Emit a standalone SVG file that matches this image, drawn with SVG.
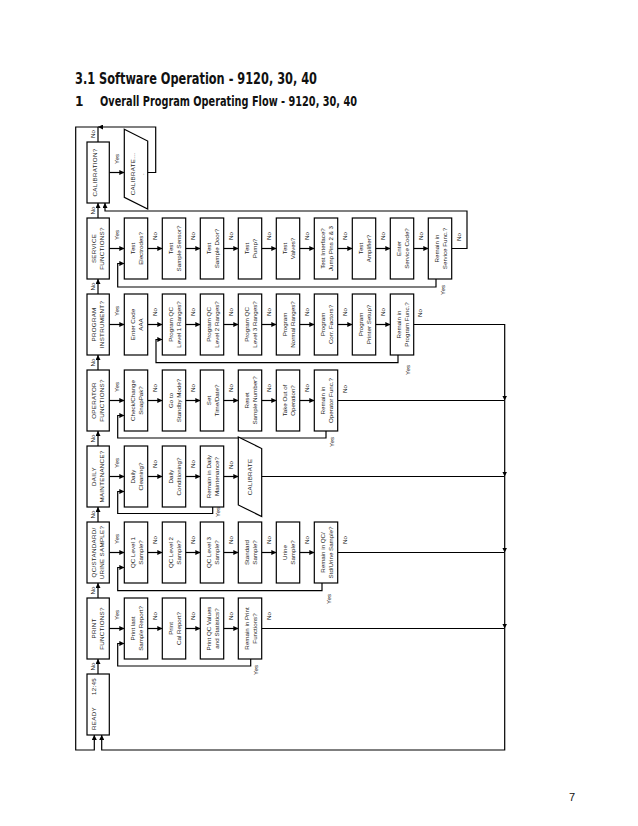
<svg xmlns="http://www.w3.org/2000/svg" width="638" height="826" viewBox="0 0 638 826">
<defs>
<marker id="ah" markerUnits="userSpaceOnUse" markerWidth="5" markerHeight="5" refX="5" refY="2.5" orient="auto">
<path d="M0,0 L5,2.5 L0,5 z" fill="#000"/>
</marker>
<style>
.box{fill:#fff;stroke:#000;stroke-width:1.2}
.ln{fill:none;stroke:#000;stroke-width:1.2}
.ar{fill:none;stroke:#000;stroke-width:1.2;marker-end:url(#ah)}
.t{font-family:"Liberation Sans",Arial,sans-serif;font-size:6.2px;fill:#222;text-anchor:middle}
.m{font-size:6.2px;letter-spacing:0.3px}
.h1{font-family:"Liberation Sans Narrow","DejaVu Sans Condensed","Liberation Sans",sans-serif;font-weight:bold;fill:#111}
</style>
</defs>
<rect width="638" height="826" fill="#fff"/>
<text class="h1" x="75" y="84" font-size="16" textLength="242" lengthAdjust="spacingAndGlyphs">3.1 Software Operation - 9120, 30, 40</text>
<text class="h1" x="75" y="106" font-size="13.5">1</text>
<text class="h1" x="100" y="106" font-size="13.5" textLength="257" lengthAdjust="spacingAndGlyphs">Overall Program Operating Flow - 9120, 30, 40</text>
<text x="569" y="801" font-family="Liberation Sans,Arial,sans-serif" font-size="11" fill="#111">7</text>

<g id="connectors">
<path class="ar" d="M98,142 V127 H75.7 V750 H94.3 V735"/>
<path class="ar" d="M147.7,172.5 H155.7 V127 H98"/>
<path class="ar" d="M98,218 V203"/>
<path class="ar" d="M98,294 V279"/>
<path class="ar" d="M98,370 V355"/>
<path class="ar" d="M98,446 V431"/>
<path class="ar" d="M98,522 V507"/>
<path class="ar" d="M98,598 V583"/>
<path class="ar" d="M98,674 V659"/>
<path class="ar" d="M109.3,172.5 H124.3"/>
<path class="ar" d="M109.3,248.5 H124.3"/>
<path class="ar" d="M109.3,324.5 H124.3"/>
<path class="ar" d="M109.3,400.5 H124.3"/>
<path class="ar" d="M109.3,476.5 H124.3"/>
<path class="ar" d="M109.3,552.5 H124.3"/>
<path class="ar" d="M109.3,628.5 H124.3"/>
<path class="ar" d="M147.7,248.5 H162.3"/>
<path class="ar" d="M185.7,248.5 H200.3"/>
<path class="ar" d="M223.7,248.5 H238.3"/>
<path class="ar" d="M261.7,248.5 H276.3"/>
<path class="ar" d="M299.7,248.5 H314.3"/>
<path class="ar" d="M337.7,248.5 H352.3"/>
<path class="ar" d="M375.7,248.5 H390.3"/>
<path class="ar" d="M413.7,248.5 H428.3"/>
<path class="ar" d="M451.7,248.5 H467 V211 H105 V203"/>
<path class="ar" d="M436,279 V287 H117.7 V263.5 H124.3"/>
<path class="ar" d="M147.7,324.5 H162.3"/>
<path class="ar" d="M185.7,324.5 H200.3"/>
<path class="ar" d="M223.7,324.5 H238.3"/>
<path class="ar" d="M261.7,324.5 H276.3"/>
<path class="ar" d="M299.7,324.5 H314.3"/>
<path class="ar" d="M337.7,324.5 H352.3"/>
<path class="ar" d="M375.7,324.5 H390.3"/>
<path class="ar" d="M398,355 V362.7 H156 V339.5 H162.3"/>
<path class="ar" d="M413.7,324.5 H504.7 V400.5"/>
<path class="ar" d="M147.7,400.5 H162.3"/>
<path class="ar" d="M185.7,400.5 H200.3"/>
<path class="ar" d="M223.7,400.5 H238.3"/>
<path class="ar" d="M261.7,400.5 H276.3"/>
<path class="ar" d="M299.7,400.5 H314.3"/>
<path class="ar" d="M326,431 V438 H117.7 V415.5 H124.3"/>
<path class="ln" d="M337.7,400.5 H504.7"/>
<path class="ar" d="M504.7,400.5 V476.5"/>
<path class="ar" d="M147.7,476.5 H162.3"/>
<path class="ar" d="M185.7,476.5 H200.3"/>
<path class="ar" d="M223.7,476.5 H238.3"/>
<path class="ar" d="M212.7,507 V513.5 H117.7 V491.5 H124.3"/>
<path class="ln" d="M261.7,476.5 H504.7"/>
<path class="ar" d="M504.7,476.5 V552.5"/>
<path class="ar" d="M147.7,552.5 H162.3"/>
<path class="ar" d="M185.7,552.5 H200.3"/>
<path class="ar" d="M223.7,552.5 H238.3"/>
<path class="ar" d="M261.7,552.5 H276.3"/>
<path class="ar" d="M299.7,552.5 H314.3"/>
<path class="ar" d="M322,583 V590.7 H117.7 V567.5 H124.3"/>
<path class="ln" d="M337.7,552.5 H504.7"/>
<path class="ar" d="M504.7,552.5 V628.5"/>
<path class="ar" d="M147.7,628.5 H162.3"/>
<path class="ar" d="M185.7,628.5 H200.3"/>
<path class="ar" d="M223.7,628.5 H238.3"/>
<path class="ar" d="M250.7,659 V666 H117.7 V643.5 H124.3"/>
<path class="ln" d="M261.7,628.5 H504.7"/>
<path class="ar" d="M504.7,628.5 V750 H101.7 V735"/>

<g class="t">
<text transform="translate(93,134) rotate(-90)" dy="2.2">No</text>
<text transform="translate(93,210.5) rotate(-90)" dy="2.2">No</text>
<text transform="translate(93,286.5) rotate(-90)" dy="2.2">No</text>
<text transform="translate(93,362.5) rotate(-90)" dy="2.2">No</text>
<text transform="translate(93,438.5) rotate(-90)" dy="2.2">No</text>
<text transform="translate(93,514.5) rotate(-90)" dy="2.2">No</text>
<text transform="translate(93,590.5) rotate(-90)" dy="2.2">No</text>
<text transform="translate(93,666.5) rotate(-90)" dy="2.2">No</text>
<text transform="translate(116.5,159) rotate(-90)" dy="2.2">Yes</text>
<text transform="translate(116.5,235) rotate(-90)" dy="2.2">Yes</text>
<text transform="translate(116.5,311) rotate(-90)" dy="2.2">Yes</text>
<text transform="translate(116.5,387) rotate(-90)" dy="2.2">Yes</text>
<text transform="translate(116.5,463) rotate(-90)" dy="2.2">Yes</text>
<text transform="translate(116.5,539) rotate(-90)" dy="2.2">Yes</text>
<text transform="translate(116.5,615) rotate(-90)" dy="2.2">Yes</text>
<text transform="translate(155,236) rotate(-90)" dy="2.2">No</text>
<text transform="translate(193,236) rotate(-90)" dy="2.2">No</text>
<text transform="translate(231,236) rotate(-90)" dy="2.2">No</text>
<text transform="translate(269,236) rotate(-90)" dy="2.2">No</text>
<text transform="translate(307,236) rotate(-90)" dy="2.2">No</text>
<text transform="translate(345,236) rotate(-90)" dy="2.2">No</text>
<text transform="translate(383,236) rotate(-90)" dy="2.2">No</text>
<text transform="translate(421,236) rotate(-90)" dy="2.2">No</text>
<text transform="translate(459,237) rotate(-90)" dy="2.2">No</text>
<text transform="translate(443,290) rotate(-90)" dy="2.2">Yes</text>
<text transform="translate(155,312) rotate(-90)" dy="2.2">No</text>
<text transform="translate(193,312) rotate(-90)" dy="2.2">No</text>
<text transform="translate(231,312) rotate(-90)" dy="2.2">No</text>
<text transform="translate(269,312) rotate(-90)" dy="2.2">No</text>
<text transform="translate(307,312) rotate(-90)" dy="2.2">No</text>
<text transform="translate(345,312) rotate(-90)" dy="2.2">No</text>
<text transform="translate(383,312) rotate(-90)" dy="2.2">No</text>
<text transform="translate(420,313) rotate(-90)" dy="2.2">No</text>
<text transform="translate(408,370) rotate(-90)" dy="2.2">Yes</text>
<text transform="translate(155,388) rotate(-90)" dy="2.2">No</text>
<text transform="translate(193,388) rotate(-90)" dy="2.2">No</text>
<text transform="translate(231,388) rotate(-90)" dy="2.2">No</text>
<text transform="translate(269,388) rotate(-90)" dy="2.2">No</text>
<text transform="translate(307,388) rotate(-90)" dy="2.2">No</text>
<text transform="translate(345,389) rotate(-90)" dy="2.2">No</text>
<text transform="translate(332,442) rotate(-90)" dy="2.2">Yes</text>
<text transform="translate(155,464) rotate(-90)" dy="2.2">No</text>
<text transform="translate(193,464) rotate(-90)" dy="2.2">No</text>
<text transform="translate(231,465) rotate(-90)" dy="2.2">No</text>
<text transform="translate(218,512) rotate(-90)" dy="2.2">Yes</text>
<text transform="translate(155,540) rotate(-90)" dy="2.2">No</text>
<text transform="translate(193,540) rotate(-90)" dy="2.2">No</text>
<text transform="translate(231,540) rotate(-90)" dy="2.2">No</text>
<text transform="translate(269,540) rotate(-90)" dy="2.2">No</text>
<text transform="translate(307,540) rotate(-90)" dy="2.2">No</text>
<text transform="translate(345,540) rotate(-90)" dy="2.2">No</text>
<text transform="translate(329,599) rotate(-90)" dy="2.2">Yes</text>
<text transform="translate(155,616) rotate(-90)" dy="2.2">No</text>
<text transform="translate(193,616) rotate(-90)" dy="2.2">No</text>
<text transform="translate(231,616) rotate(-90)" dy="2.2">No</text>
<text transform="translate(269,616) rotate(-90)" dy="2.2">No</text>
<text transform="translate(256,670) rotate(-90)" dy="2.2">Yes</text>
</g>
</g>

<g id="calibration-q"><rect class="box" x="87" y="142" width="22.3" height="61"/><text class="t m" transform="translate(98,172.5) rotate(-90)" y="-0.7">CALIBRATION?</text></g>
<g id="service-q"><rect class="box" x="87" y="218" width="22.3" height="61"/><text class="t m" transform="translate(98,248.5) rotate(-90)"><tspan x="0" y="-2.4">SERVICE</tspan><tspan x="0" y="6">FUNCTIONS?</tspan></text></g>
<g id="program-q"><rect class="box" x="87" y="294" width="22.3" height="61"/><text class="t m" transform="translate(98,324.5) rotate(-90)"><tspan x="0" y="-2.4">PROGRAM</tspan><tspan x="0" y="6">INSTRUMENT?</tspan></text></g>
<g id="operator-q"><rect class="box" x="87" y="370" width="22.3" height="61"/><text class="t m" transform="translate(98,400.5) rotate(-90)"><tspan x="0" y="-2.4">OPERATOR</tspan><tspan x="0" y="6">FUNCTIONS?</tspan></text></g>
<g id="daily-q"><rect class="box" x="87" y="446" width="22.3" height="61"/><text class="t m" transform="translate(98,476.5) rotate(-90)"><tspan x="0" y="-2.4">DAILY</tspan><tspan x="0" y="6">MAINTENANCE?</tspan></text></g>
<g id="qc-q"><rect class="box" x="87" y="522" width="22.3" height="61"/><text class="t m" transform="translate(98,552.5) rotate(-90)"><tspan x="0" y="-2.4">QC/STANDARD/</tspan><tspan x="0" y="6">URINE SAMPLE?</tspan></text></g>
<g id="print-q"><rect class="box" x="87" y="598" width="22.3" height="61"/><text class="t m" transform="translate(98,628.5) rotate(-90)"><tspan x="0" y="-2.4">PRINT</tspan><tspan x="0" y="6">FUNCTIONS?</tspan></text></g>
<g id="ready"><rect class="box" x="87" y="674" width="22.3" height="61"/><text class="t m" transform="translate(98,718.5) rotate(-90)" y="-2.4">READY</text><text class="t m" transform="translate(98,686.5) rotate(-90)" y="-2.4">12:45</text></g>

<g id="calibrate-1"><path class="box" d="M124.3,129.3 L147.7,141 L147.7,209 L124.3,197.3 Z"/><text class="t m" transform="translate(136,174) rotate(-90)"><tspan x="0" y="-0.6">CALIBRATE...</tspan><tspan x="0" y="7.8">.</tspan></text></g>

<g id="s0"><rect class="box" x="124.3" y="218" width="23.4" height="61"/><text class="t" transform="translate(136,248.5) rotate(-90)"><tspan x="0" y="-1">Test</tspan><tspan x="0" y="6.5">Electrodes?</tspan></text></g>
<g id="s1"><rect class="box" x="162.3" y="218" width="23.4" height="61"/><text class="t" transform="translate(174,248.5) rotate(-90)"><tspan x="0" y="-1">Test</tspan><tspan x="0" y="6.5">Sample Sensor?</tspan></text></g>
<g id="s2"><rect class="box" x="200.3" y="218" width="23.4" height="61"/><text class="t" transform="translate(212,248.5) rotate(-90)"><tspan x="0" y="-1">Test</tspan><tspan x="0" y="6.5">Sample Door?</tspan></text></g>
<g id="s3"><rect class="box" x="238.3" y="218" width="23.4" height="61"/><text class="t" transform="translate(250,248.5) rotate(-90)"><tspan x="0" y="-1">Test</tspan><tspan x="0" y="6.5">Pump?</tspan></text></g>
<g id="s4"><rect class="box" x="276.3" y="218" width="23.4" height="61"/><text class="t" transform="translate(288,248.5) rotate(-90)"><tspan x="0" y="-1">Test</tspan><tspan x="0" y="6.5">Valves?</tspan></text></g>
<g id="s5"><rect class="box" x="314.3" y="218" width="23.4" height="61"/><text class="t" transform="translate(326,248.5) rotate(-90)"><tspan x="0" y="-1">Test Interface?</tspan><tspan x="0" y="6.5">Jump Pins 2 &amp; 3</tspan></text></g>
<g id="s6"><rect class="box" x="352.3" y="218" width="23.4" height="61"/><text class="t" transform="translate(364,248.5) rotate(-90)"><tspan x="0" y="-1">Test</tspan><tspan x="0" y="6.5">Amplifier?</tspan></text></g>
<g id="s7"><rect class="box" x="390.3" y="218" width="23.4" height="61"/><text class="t" transform="translate(402,248.5) rotate(-90)"><tspan x="0" y="-1">Enter</tspan><tspan x="0" y="6.5">Service Code?</tspan></text></g>
<g id="s8"><rect class="box" x="428.3" y="218" width="23.4" height="61"/><text class="t" transform="translate(440,248.5) rotate(-90)"><tspan x="0" y="-1">Remain in</tspan><tspan x="0" y="6.5">Service Func.?</tspan></text></g>

<g id="p0"><rect class="box" x="124.3" y="294" width="23.4" height="61"/><text class="t" transform="translate(136,324.5) rotate(-90)"><tspan x="0" y="-1">Enter Code</tspan><tspan x="0" y="6.5">AAA</tspan></text></g>
<g id="p1"><rect class="box" x="162.3" y="294" width="23.4" height="61"/><text class="t" transform="translate(174,324.5) rotate(-90)"><tspan x="0" y="-1">Program QC</tspan><tspan x="0" y="6.5">Level 1 Ranges?</tspan></text></g>
<g id="p2"><rect class="box" x="200.3" y="294" width="23.4" height="61"/><text class="t" transform="translate(212,324.5) rotate(-90)"><tspan x="0" y="-1">Program QC</tspan><tspan x="0" y="6.5">Level 2 Ranges?</tspan></text></g>
<g id="p3"><rect class="box" x="238.3" y="294" width="23.4" height="61"/><text class="t" transform="translate(250,324.5) rotate(-90)"><tspan x="0" y="-1">Program QC</tspan><tspan x="0" y="6.5">Level 3 Ranges?</tspan></text></g>
<g id="p4"><rect class="box" x="276.3" y="294" width="23.4" height="61"/><text class="t" transform="translate(288,324.5) rotate(-90)"><tspan x="0" y="-1">Program</tspan><tspan x="0" y="6.5">Normal Ranges?</tspan></text></g>
<g id="p5"><rect class="box" x="314.3" y="294" width="23.4" height="61"/><text class="t" transform="translate(326,324.5) rotate(-90)"><tspan x="0" y="-1">Program</tspan><tspan x="0" y="6.5">Corr. Factors?</tspan></text></g>
<g id="p6"><rect class="box" x="352.3" y="294" width="23.4" height="61"/><text class="t" transform="translate(364,324.5) rotate(-90)"><tspan x="0" y="-1">Program</tspan><tspan x="0" y="6.5">Printer Setup?</tspan></text></g>
<g id="p7"><rect class="box" x="390.3" y="294" width="23.4" height="61"/><text class="t" transform="translate(402,324.5) rotate(-90)"><tspan x="0" y="-1">Remain in</tspan><tspan x="0" y="6.5">Program Func.?</tspan></text></g>

<g id="o0"><rect class="box" x="124.3" y="370" width="23.4" height="61"/><text class="t" transform="translate(136,400.5) rotate(-90)"><tspan x="0" y="-1">Check/Change</tspan><tspan x="0" y="6.5">SnapPak?</tspan></text></g>
<g id="o1"><rect class="box" x="162.3" y="370" width="23.4" height="61"/><text class="t" transform="translate(174,400.5) rotate(-90)"><tspan x="0" y="-1">Go to</tspan><tspan x="0" y="6.5">Standby Mode?</tspan></text></g>
<g id="o2"><rect class="box" x="200.3" y="370" width="23.4" height="61"/><text class="t" transform="translate(212,400.5) rotate(-90)"><tspan x="0" y="-1">Set</tspan><tspan x="0" y="6.5">Time/Date?</tspan></text></g>
<g id="o3"><rect class="box" x="238.3" y="370" width="23.4" height="61"/><text class="t" transform="translate(250,400.5) rotate(-90)"><tspan x="0" y="-1">Reset</tspan><tspan x="0" y="6.5">Sample Number?</tspan></text></g>
<g id="o4"><rect class="box" x="276.3" y="370" width="23.4" height="61"/><text class="t" transform="translate(288,400.5) rotate(-90)"><tspan x="0" y="-1">Take Out of</tspan><tspan x="0" y="6.5">Operation?</tspan></text></g>
<g id="o5"><rect class="box" x="314.3" y="370" width="23.4" height="61"/><text class="t" transform="translate(326,400.5) rotate(-90)"><tspan x="0" y="-1">Remain in</tspan><tspan x="0" y="6.5">Operator Func.?</tspan></text></g>

<g id="d0"><rect class="box" x="124.3" y="446" width="23.4" height="61"/><text class="t" transform="translate(136,476.5) rotate(-90)"><tspan x="0" y="-1">Daily</tspan><tspan x="0" y="6.5">Cleaning?</tspan></text></g>
<g id="d1"><rect class="box" x="162.3" y="446" width="23.4" height="61"/><text class="t" transform="translate(174,476.5) rotate(-90)"><tspan x="0" y="-1">Daily</tspan><tspan x="0" y="6.5">Conditioning?</tspan></text></g>
<g id="d2"><rect class="box" x="200.3" y="446" width="23.4" height="61"/><text class="t" transform="translate(212,476.5) rotate(-90)"><tspan x="0" y="-1">Remain in Daily</tspan><tspan x="0" y="6.5">Maintenance?</tspan></text></g>
<g id="calibrate-2"><path class="box" d="M238.3,437 L261.7,448.5 L261.7,516.5 L238.3,505 Z"/><text class="t m" transform="translate(250,477) rotate(-90)" dy="2.3">CALIBRATE</text></g>

<g id="q0"><rect class="box" x="124.3" y="522" width="23.4" height="61"/><text class="t" transform="translate(136,552.5) rotate(-90)"><tspan x="0" y="-1">QC Level 1</tspan><tspan x="0" y="6.5">Sample?</tspan></text></g>
<g id="q1"><rect class="box" x="162.3" y="522" width="23.4" height="61"/><text class="t" transform="translate(174,552.5) rotate(-90)"><tspan x="0" y="-1">QC Level 2</tspan><tspan x="0" y="6.5">Sample?</tspan></text></g>
<g id="q2"><rect class="box" x="200.3" y="522" width="23.4" height="61"/><text class="t" transform="translate(212,552.5) rotate(-90)"><tspan x="0" y="-1">QC Level 3</tspan><tspan x="0" y="6.5">Sample?</tspan></text></g>
<g id="q3"><rect class="box" x="238.3" y="522" width="23.4" height="61"/><text class="t" transform="translate(250,552.5) rotate(-90)"><tspan x="0" y="-1">Standard</tspan><tspan x="0" y="6.5">Sample?</tspan></text></g>
<g id="q4"><rect class="box" x="276.3" y="522" width="23.4" height="61"/><text class="t" transform="translate(288,552.5) rotate(-90)"><tspan x="0" y="-1">Urine</tspan><tspan x="0" y="6.5">Sample?</tspan></text></g>
<g id="q5"><rect class="box" x="314.3" y="522" width="23.4" height="61"/><text class="t" transform="translate(326,552.5) rotate(-90)"><tspan x="0" y="-1">Remain in QC/</tspan><tspan x="0" y="6.5">Std/Urine Sample?</tspan></text></g>

<g id="r0"><rect class="box" x="124.3" y="598" width="23.4" height="61"/><text class="t" transform="translate(136,628.5) rotate(-90)"><tspan x="0" y="-1">Print last</tspan><tspan x="0" y="6.5">Sample Report?</tspan></text></g>
<g id="r1"><rect class="box" x="162.3" y="598" width="23.4" height="61"/><text class="t" transform="translate(174,628.5) rotate(-90)"><tspan x="0" y="-1">Print</tspan><tspan x="0" y="6.5">Cal Report?</tspan></text></g>
<g id="r2"><rect class="box" x="200.3" y="598" width="23.4" height="61"/><text class="t" transform="translate(212,628.5) rotate(-90)"><tspan x="0" y="-1">Print QC Values</tspan><tspan x="0" y="6.5">and Statistics?</tspan></text></g>
<g id="r3"><rect class="box" x="238.3" y="598" width="23.4" height="61"/><text class="t" transform="translate(250,628.5) rotate(-90)"><tspan x="0" y="-1">Remain in Print</tspan><tspan x="0" y="6.5">Functions?</tspan></text></g>
</svg>
